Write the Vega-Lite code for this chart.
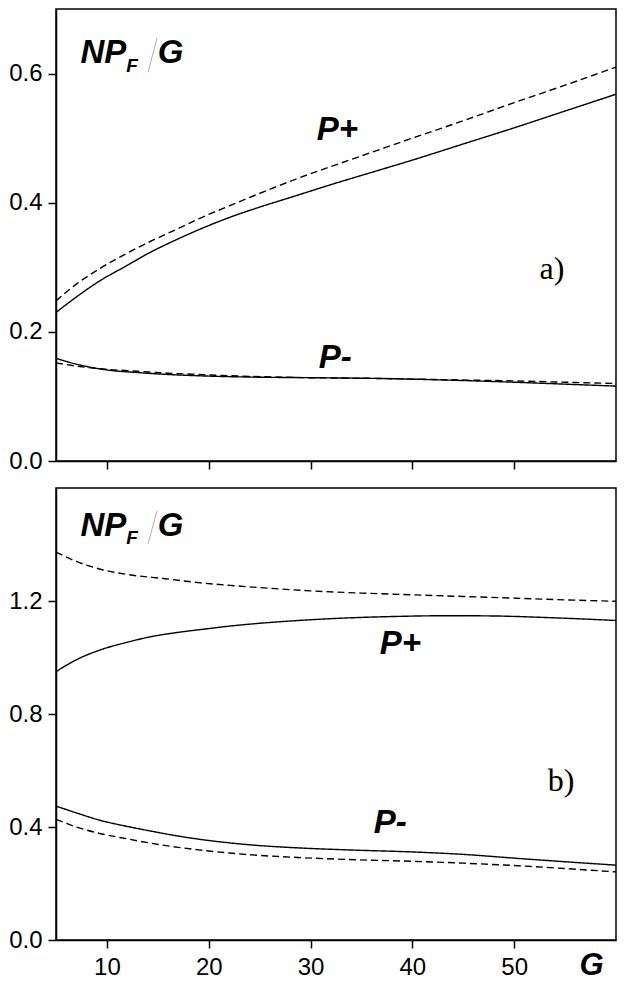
{
  "$schema": "https://vega.github.io/schema/vega-lite/v6.json",
  "padding": {"left": 7, "top": 8, "right": 12, "bottom": 5},
  "background": "white",
  "spacing": 13,
  "config": {
    "font": "Liberation Sans",
    "view": {"stroke": "black", "strokeWidth": 1.5},
    "axis": {
      "grid": false,
      "domainColor": "black",
      "domainWidth": 1.5,
      "tickColor": "black",
      "tickWidth": 1.5,
      "tickSize": 8,
      "labelFont": "Liberation Sans",
      "labelFontSize": 24,
      "labelColor": "black",
      "labelPadding": 6
    }
  },
  "datasets": {
    "top": [
      {"G": 5, "v": 0.230, "curve": "P+", "kind": "solid"},
      {"G": 7, "v": 0.254, "curve": "P+", "kind": "solid"},
      {"G": 9.2, "v": 0.278, "curve": "P+", "kind": "solid"},
      {"G": 12, "v": 0.303, "curve": "P+", "kind": "solid"},
      {"G": 14, "v": 0.321, "curve": "P+", "kind": "solid"},
      {"G": 17, "v": 0.344, "curve": "P+", "kind": "solid"},
      {"G": 19, "v": 0.358, "curve": "P+", "kind": "solid"},
      {"G": 22, "v": 0.377, "curve": "P+", "kind": "solid"},
      {"G": 24, "v": 0.388, "curve": "P+", "kind": "solid"},
      {"G": 28.8, "v": 0.412, "curve": "P+", "kind": "solid"},
      {"G": 32, "v": 0.428, "curve": "P+", "kind": "solid"},
      {"G": 36, "v": 0.447, "curve": "P+", "kind": "solid"},
      {"G": 40, "v": 0.466, "curve": "P+", "kind": "solid"},
      {"G": 45, "v": 0.491, "curve": "P+", "kind": "solid"},
      {"G": 50, "v": 0.516, "curve": "P+", "kind": "solid"},
      {"G": 55, "v": 0.542, "curve": "P+", "kind": "solid"},
      {"G": 60, "v": 0.568, "curve": "P+", "kind": "solid"},
      {"G": 5, "v": 0.248, "curve": "P+", "kind": "dashed"},
      {"G": 7, "v": 0.274, "curve": "P+", "kind": "dashed"},
      {"G": 9.2, "v": 0.297, "curve": "P+", "kind": "dashed"},
      {"G": 12, "v": 0.322, "curve": "P+", "kind": "dashed"},
      {"G": 14, "v": 0.338, "curve": "P+", "kind": "dashed"},
      {"G": 17, "v": 0.360, "curve": "P+", "kind": "dashed"},
      {"G": 19, "v": 0.375, "curve": "P+", "kind": "dashed"},
      {"G": 22, "v": 0.395, "curve": "P+", "kind": "dashed"},
      {"G": 24, "v": 0.408, "curve": "P+", "kind": "dashed"},
      {"G": 28.8, "v": 0.438, "curve": "P+", "kind": "dashed"},
      {"G": 32, "v": 0.456, "curve": "P+", "kind": "dashed"},
      {"G": 36, "v": 0.478, "curve": "P+", "kind": "dashed"},
      {"G": 40, "v": 0.500, "curve": "P+", "kind": "dashed"},
      {"G": 45, "v": 0.527, "curve": "P+", "kind": "dashed"},
      {"G": 50, "v": 0.555, "curve": "P+", "kind": "dashed"},
      {"G": 55, "v": 0.582, "curve": "P+", "kind": "dashed"},
      {"G": 60, "v": 0.610, "curve": "P+", "kind": "dashed"},
      {"G": 5, "v": 0.159, "curve": "P-", "kind": "solid"},
      {"G": 7, "v": 0.150, "curve": "P-", "kind": "solid"},
      {"G": 10, "v": 0.141, "curve": "P-", "kind": "solid"},
      {"G": 13, "v": 0.137, "curve": "P-", "kind": "solid"},
      {"G": 16, "v": 0.134, "curve": "P-", "kind": "solid"},
      {"G": 19, "v": 0.132, "curve": "P-", "kind": "solid"},
      {"G": 24, "v": 0.130, "curve": "P-", "kind": "solid"},
      {"G": 30, "v": 0.129, "curve": "P-", "kind": "solid"},
      {"G": 36, "v": 0.128, "curve": "P-", "kind": "solid"},
      {"G": 43, "v": 0.1255, "curve": "P-", "kind": "solid"},
      {"G": 50, "v": 0.122, "curve": "P-", "kind": "solid"},
      {"G": 55, "v": 0.119, "curve": "P-", "kind": "solid"},
      {"G": 60, "v": 0.116, "curve": "P-", "kind": "solid"},
      {"G": 5, "v": 0.152, "curve": "P-", "kind": "dashed"},
      {"G": 7, "v": 0.147, "curve": "P-", "kind": "dashed"},
      {"G": 10, "v": 0.142, "curve": "P-", "kind": "dashed"},
      {"G": 13, "v": 0.139, "curve": "P-", "kind": "dashed"},
      {"G": 16, "v": 0.136, "curve": "P-", "kind": "dashed"},
      {"G": 19, "v": 0.134, "curve": "P-", "kind": "dashed"},
      {"G": 24, "v": 0.131, "curve": "P-", "kind": "dashed"},
      {"G": 30, "v": 0.129, "curve": "P-", "kind": "dashed"},
      {"G": 36, "v": 0.128, "curve": "P-", "kind": "dashed"},
      {"G": 43, "v": 0.126, "curve": "P-", "kind": "dashed"},
      {"G": 50, "v": 0.124, "curve": "P-", "kind": "dashed"},
      {"G": 55, "v": 0.122, "curve": "P-", "kind": "dashed"},
      {"G": 60, "v": 0.120, "curve": "P-", "kind": "dashed"}
    ],
    "bottom": [
      {"G": 5, "v": 0.950, "curve": "P+", "kind": "solid"},
      {"G": 7, "v": 0.992, "curve": "P+", "kind": "solid"},
      {"G": 9.2, "v": 1.025, "curve": "P+", "kind": "solid"},
      {"G": 12, "v": 1.054, "curve": "P+", "kind": "solid"},
      {"G": 14.1, "v": 1.072, "curve": "P+", "kind": "solid"},
      {"G": 17, "v": 1.089, "curve": "P+", "kind": "solid"},
      {"G": 19, "v": 1.098, "curve": "P+", "kind": "solid"},
      {"G": 22, "v": 1.111, "curve": "P+", "kind": "solid"},
      {"G": 24, "v": 1.118, "curve": "P+", "kind": "solid"},
      {"G": 28.8, "v": 1.131, "curve": "P+", "kind": "solid"},
      {"G": 33.6, "v": 1.140, "curve": "P+", "kind": "solid"},
      {"G": 38, "v": 1.145, "curve": "P+", "kind": "solid"},
      {"G": 43.7, "v": 1.148, "curve": "P+", "kind": "solid"},
      {"G": 48, "v": 1.147, "curve": "P+", "kind": "solid"},
      {"G": 53.5, "v": 1.141, "curve": "P+", "kind": "solid"},
      {"G": 57, "v": 1.136, "curve": "P+", "kind": "solid"},
      {"G": 60, "v": 1.131, "curve": "P+", "kind": "solid"},
      {"G": 5, "v": 1.373, "curve": "P+", "kind": "dashed"},
      {"G": 7, "v": 1.340, "curve": "P+", "kind": "dashed"},
      {"G": 9.2, "v": 1.314, "curve": "P+", "kind": "dashed"},
      {"G": 12, "v": 1.294, "curve": "P+", "kind": "dashed"},
      {"G": 15.7, "v": 1.279, "curve": "P+", "kind": "dashed"},
      {"G": 19, "v": 1.265, "curve": "P+", "kind": "dashed"},
      {"G": 22.2, "v": 1.255, "curve": "P+", "kind": "dashed"},
      {"G": 26, "v": 1.245, "curve": "P+", "kind": "dashed"},
      {"G": 30, "v": 1.236, "curve": "P+", "kind": "dashed"},
      {"G": 35, "v": 1.228, "curve": "P+", "kind": "dashed"},
      {"G": 40, "v": 1.222, "curve": "P+", "kind": "dashed"},
      {"G": 45, "v": 1.216, "curve": "P+", "kind": "dashed"},
      {"G": 50, "v": 1.210, "curve": "P+", "kind": "dashed"},
      {"G": 55, "v": 1.204, "curve": "P+", "kind": "dashed"},
      {"G": 60, "v": 1.199, "curve": "P+", "kind": "dashed"},
      {"G": 5, "v": 0.474, "curve": "P-", "kind": "solid"},
      {"G": 7, "v": 0.450, "curve": "P-", "kind": "solid"},
      {"G": 9.2, "v": 0.425, "curve": "P-", "kind": "solid"},
      {"G": 12, "v": 0.402, "curve": "P-", "kind": "solid"},
      {"G": 14.1, "v": 0.387, "curve": "P-", "kind": "solid"},
      {"G": 17, "v": 0.368, "curve": "P-", "kind": "solid"},
      {"G": 19, "v": 0.357, "curve": "P-", "kind": "solid"},
      {"G": 22, "v": 0.344, "curve": "P-", "kind": "solid"},
      {"G": 24, "v": 0.337, "curve": "P-", "kind": "solid"},
      {"G": 28.8, "v": 0.326, "curve": "P-", "kind": "solid"},
      {"G": 33.6, "v": 0.319, "curve": "P-", "kind": "solid"},
      {"G": 40.5, "v": 0.311, "curve": "P-", "kind": "solid"},
      {"G": 45, "v": 0.303, "curve": "P-", "kind": "solid"},
      {"G": 50.3, "v": 0.289, "curve": "P-", "kind": "solid"},
      {"G": 55, "v": 0.277, "curve": "P-", "kind": "solid"},
      {"G": 60, "v": 0.265, "curve": "P-", "kind": "solid"},
      {"G": 5, "v": 0.427, "curve": "P-", "kind": "dashed"},
      {"G": 7, "v": 0.400, "curve": "P-", "kind": "dashed"},
      {"G": 9.2, "v": 0.378, "curve": "P-", "kind": "dashed"},
      {"G": 12, "v": 0.358, "curve": "P-", "kind": "dashed"},
      {"G": 14.1, "v": 0.344, "curve": "P-", "kind": "dashed"},
      {"G": 17, "v": 0.328, "curve": "P-", "kind": "dashed"},
      {"G": 19, "v": 0.319, "curve": "P-", "kind": "dashed"},
      {"G": 22, "v": 0.308, "curve": "P-", "kind": "dashed"},
      {"G": 24, "v": 0.302, "curve": "P-", "kind": "dashed"},
      {"G": 28.8, "v": 0.292, "curve": "P-", "kind": "dashed"},
      {"G": 33.6, "v": 0.285, "curve": "P-", "kind": "dashed"},
      {"G": 40.5, "v": 0.278, "curve": "P-", "kind": "dashed"},
      {"G": 45, "v": 0.272, "curve": "P-", "kind": "dashed"},
      {"G": 50.3, "v": 0.263, "curve": "P-", "kind": "dashed"},
      {"G": 55, "v": 0.253, "curve": "P-", "kind": "dashed"},
      {"G": 60, "v": 0.241, "curve": "P-", "kind": "dashed"}
    ],
    "topBig": [
      {"G": 7.4, "v": 0.616, "label": "NP"},
      {"G": 15.0, "v": 0.616, "label": "G"},
      {"G": 30.6, "v": 0.497, "label": "P+"},
      {"G": 30.8, "v": 0.1436, "label": "P-"}
    ],
    "topSub": [{"G": 11.9, "v": 0.602, "label": "F"}],
    "topPanel": [{"G": 53.7, "v": 0.282, "label": "a)"}],
    "topSlash": [{"G": 14.04, "v": 0.602, "G2": 14.92, "v2": 0.655}],
    "botBig": [
      {"G": 7.4, "v": 1.430, "label": "NP"},
      {"G": 15.0, "v": 1.430, "label": "G"},
      {"G": 36.8, "v": 1.012, "label": "P+"},
      {"G": 36.2, "v": 0.380, "label": "P-"}
    ],
    "botSub": [{"G": 11.9, "v": 1.402, "label": "F"}],
    "botPanel": [{"G": 54.6, "v": 0.527, "label": "b)"}],
    "botSlash": [{"G": 14.04, "v": 1.402, "G2": 14.92, "v2": 1.519}]
  },
  "vconcat": [
    {
      "width": 560,
      "height": 452,
      "layer": [
        {
          "data": {"name": "top"},
          "mark": {"type": "line", "interpolate": "monotone", "color": "black", "strokeWidth": 1.4},
          "encoding": {
            "x": {"field": "G", "type": "quantitative", "scale": {"domain": [5, 60], "nice": false, "zero": false},
                  "axis": {"values": [10, 20, 30, 40, 50], "labels": false, "title": null}},
            "y": {"field": "v", "type": "quantitative", "scale": {"domain": [0, 0.7], "nice": false},
                  "axis": {"values": [0, 0.2, 0.4, 0.6], "format": ".1f", "title": null}},
            "detail": {"field": "curve"},
            "strokeDash": {"field": "kind", "type": "nominal", "scale": {"domain": ["solid", "dashed"], "range": [[1, 0], [7, 4]]}, "legend": null}
          }
        },
        {
          "data": {"name": "topSlash"},
          "mark": {"type": "rule", "color": "#b0b0b0", "strokeWidth": 1},
          "encoding": {
            "x": {"field": "G", "type": "quantitative"},
            "y": {"field": "v", "type": "quantitative"},
            "x2": {"field": "G2"},
            "y2": {"field": "v2"}
          }
        },
        {
          "data": {"name": "topBig"},
          "mark": {"type": "text", "align": "left", "baseline": "alphabetic", "font": "Liberation Sans", "fontSize": 33, "fontWeight": "bold", "fontStyle": "italic", "color": "black"},
          "encoding": {
            "x": {"field": "G", "type": "quantitative"},
            "y": {"field": "v", "type": "quantitative"},
            "text": {"field": "label"}
          }
        },
        {
          "data": {"name": "topSub"},
          "mark": {"type": "text", "align": "left", "baseline": "alphabetic", "font": "Liberation Sans", "fontSize": 19, "fontWeight": "bold", "fontStyle": "italic", "color": "black"},
          "encoding": {
            "x": {"field": "G", "type": "quantitative"},
            "y": {"field": "v", "type": "quantitative"},
            "text": {"field": "label"}
          }
        },
        {
          "data": {"name": "topPanel"},
          "mark": {"type": "text", "align": "center", "baseline": "alphabetic", "font": "Liberation Serif", "fontSize": 32, "color": "black"},
          "encoding": {
            "x": {"field": "G", "type": "quantitative"},
            "y": {"field": "v", "type": "quantitative"},
            "text": {"field": "label"}
          }
        }
      ]
    },
    {
      "width": 560,
      "height": 452,
      "layer": [
        {
          "data": {"name": "bottom"},
          "mark": {"type": "line", "interpolate": "monotone", "color": "black", "strokeWidth": 1.4},
          "encoding": {
            "x": {"field": "G", "type": "quantitative", "scale": {"domain": [5, 60], "nice": false, "zero": false},
                  "axis": {"values": [10, 20, 30, 40, 50], "labelPadding": 7, "title": "G",
                           "titleFont": "Liberation Sans", "titleFontSize": 31, "titleFontWeight": "bold", "titleFontStyle": "italic",
                           "titleColor": "black", "titleX": 535, "titleY": 34, "titleAlign": "center", "titleBaseline": "alphabetic"}},
            "y": {"field": "v", "type": "quantitative", "scale": {"domain": [0, 1.6], "nice": false},
                  "axis": {"values": [0, 0.4, 0.8, 1.2], "format": ".1f", "title": null}},
            "detail": {"field": "curve"},
            "strokeDash": {"field": "kind", "type": "nominal", "scale": {"domain": ["solid", "dashed"], "range": [[1, 0], [7, 4]]}, "legend": null}
          }
        },
        {
          "data": {"name": "botSlash"},
          "mark": {"type": "rule", "color": "#b0b0b0", "strokeWidth": 1},
          "encoding": {
            "x": {"field": "G", "type": "quantitative"},
            "y": {"field": "v", "type": "quantitative"},
            "x2": {"field": "G2"},
            "y2": {"field": "v2"}
          }
        },
        {
          "data": {"name": "botBig"},
          "mark": {"type": "text", "align": "left", "baseline": "alphabetic", "font": "Liberation Sans", "fontSize": 33, "fontWeight": "bold", "fontStyle": "italic", "color": "black"},
          "encoding": {
            "x": {"field": "G", "type": "quantitative"},
            "y": {"field": "v", "type": "quantitative"},
            "text": {"field": "label"}
          }
        },
        {
          "data": {"name": "botSub"},
          "mark": {"type": "text", "align": "left", "baseline": "alphabetic", "font": "Liberation Sans", "fontSize": 19, "fontWeight": "bold", "fontStyle": "italic", "color": "black"},
          "encoding": {
            "x": {"field": "G", "type": "quantitative"},
            "y": {"field": "v", "type": "quantitative"},
            "text": {"field": "label"}
          }
        },
        {
          "data": {"name": "botPanel"},
          "mark": {"type": "text", "align": "center", "baseline": "alphabetic", "font": "Liberation Serif", "fontSize": 32, "color": "black"},
          "encoding": {
            "x": {"field": "G", "type": "quantitative"},
            "y": {"field": "v", "type": "quantitative"},
            "text": {"field": "label"}
          }
        }
      ]
    }
  ]
}
